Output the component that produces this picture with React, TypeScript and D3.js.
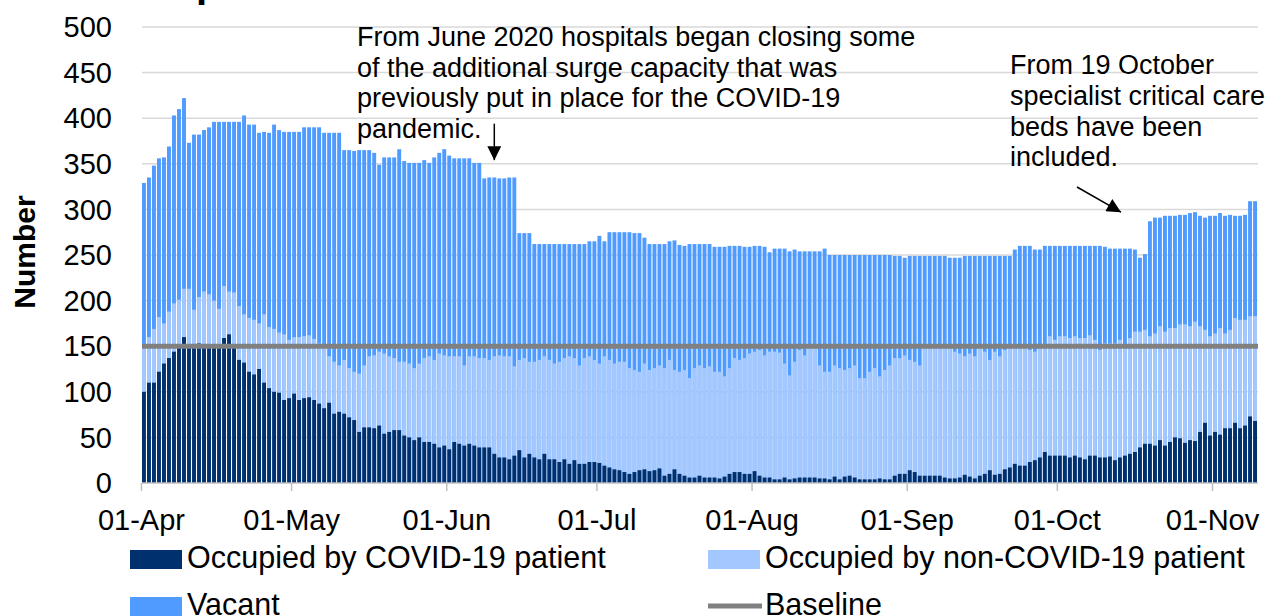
import React from 'react';
import * as d3 from 'd3';

// daily critical care bed counts, 01-Apr-2020 onwards
const startDate = new Date(2020, 3, 1);

const totalBeds = [
  329, 335, 348, 356, 357, 369, 403, 410, 422, 373, 382, 382, 387, 390, 396, 396, 396, 396, 396, 396, 403, 393, 393, 384, 385, 384, 393, 387, 385, 385, 385, 385,
  390, 390, 390, 390, 384, 384, 384, 384, 365, 365, 364, 365, 365, 365, 362, 349, 357, 357, 357, 366, 353, 351, 351, 351, 354, 351, 357, 362, 366, 359, 356, 356,
  356, 356, 351, 351,
  334, 335, 335, 334, 334, 335, 335,
  274, 274, 274,
  262, 262, 262, 262, 262, 262, 262, 262, 262, 262, 262,
  265, 265, 271, 265, 275,
  275, 275, 275, 275, 274, 274, 269, 262, 262, 262, 262, 265, 266, 261, 260, 262, 262, 262, 262, 262, 259, 259, 259, 260, 260, 260, 259, 259, 260, 260, 259, 253, 257, 257,
  257, 254, 256, 254, 254, 254, 254, 254, 257, 250, 250, 250, 250, 250, 250, 250, 250, 250, 250, 250, 250, 250, 249, 249, 247, 249, 249, 249, 249, 249,
  249, 249, 249, 247, 247, 247, 249, 249, 249, 249, 249, 249, 249, 249, 249, 249, 256, 260, 260, 260, 256, 256, 260, 260, 260, 260, 260, 260, 260, 260, 260, 260,
  260, 260, 259, 257, 257, 257, 257, 257, 256, 247, 251, 287, 291, 291, 293, 293, 293, 294, 294, 296, 297, 293, 291, 293, 293, 296, 293, 294, 293, 293, 294, 309, 309,
];

// covid + non-covid patients
const occupiedBeds = [
  148, 160, 169, 182, 175, 188, 197, 201, 213, 213, 190, 204, 210, 207, 200, 191, 216, 210, 209, 194, 185, 181, 179, 175, 185, 171, 169, 165, 163, 157,
  160, 160, 161, 162, 158, 153, 152, 139, 133, 129, 135, 126, 122, 120, 129, 139, 140, 144, 142, 139, 137, 133, 133, 131, 126, 131, 137, 139, 135, 142, 140, 139,
  139, 139, 129, 139, 139, 137, 137, 135, 139, 140, 139, 139, 128, 135, 137, 133, 133, 135, 139, 135, 131, 133, 137, 139, 137, 129, 137, 139, 135, 131, 139, 135,
  131, 133, 133, 126, 124, 122, 131, 124, 126, 129, 126, 135, 124, 122, 124, 115, 126, 129, 126, 128, 122, 122, 117, 126, 137, 135, 137, 142, 144, 146, 140, 144,
  144, 143, 131, 118, 133, 146, 140, 150, 150, 129, 122, 122, 129, 126, 124, 126, 129, 115, 115, 122, 126, 117, 124, 129, 137, 137, 140, 135, 133, 129, 150, 148,
  150, 148, 148, 150, 144, 142, 139, 142, 139, 148, 144, 135, 144, 139, 146, 148, 148, 148, 148, 146, 144, 150, 151, 161, 157, 161, 161, 159, 161, 159, 159, 162,
  157, 146, 153, 153, 153, 157, 150, 159, 166, 166, 168, 161, 164, 172, 166, 170, 170, 174, 174, 172, 177, 172, 168, 161, 164, 170, 164, 168, 181, 179, 179, 183, 183,
];

const covidBeds = [
  100, 110, 110, 122, 131, 137, 144, 151, 160, 152, 152, 153, 152, 151, 151, 150, 159, 163, 150, 135, 132, 122, 119, 125, 110, 104, 100, 99, 91, 93,
  98, 91, 93, 94, 91, 87, 82, 88, 76, 78, 76, 72, 69, 56, 61, 61, 60, 63, 54, 56, 58, 58, 52, 50, 47, 50, 45, 45, 43, 39, 41, 37,
  45, 43, 41, 43, 41, 39, 39, 39, 32, 28, 28, 26, 30, 36, 28, 32, 28, 26, 32, 26, 26, 23, 26, 21, 25, 21, 21, 23, 23, 22, 19, 17,
  15, 14, 12, 10, 12, 14, 15, 13, 14, 16, 8, 10, 15, 10, 8, 6, 6, 8, 6, 6, 6, 5, 7, 10, 12, 12, 10, 10, 13, 8, 6, 6,
  4, 4, 6, 4, 5, 6, 6, 6, 6, 5, 5, 4, 7, 4, 7, 8, 6, 4, 4, 4, 4, 5, 4, 4, 8, 10, 10, 14, 12, 8, 8, 8,
  8, 8, 6, 5, 5, 6, 9, 7, 5, 8, 10, 14, 9, 10, 15, 17, 21, 19, 19, 23, 25, 28, 34, 30, 30, 30, 30, 28, 30, 28, 26, 30,
  30, 28, 28, 29, 25, 28, 30, 32, 34, 39, 43, 43, 41, 47, 41, 45, 50, 49, 44, 47, 46, 56, 66, 52, 56, 53, 60, 60, 66, 60, 63, 73, 68,
];

const baselineBeds = 150;
const yTicks = [0, 50, 100, 150, 200, 250, 300, 350, 400, 450, 500];

const note1 = [
  'From June 2020 hospitals began closing some',
  'of the additional surge capacity that was',
  'previously put in place for the COVID-19',
  'pandemic.',
];
const note2 = ['From 19 October', 'specialist critical care', 'beds have been', 'included.'];

const COL_COVID = '#00306e';
const COL_NONCOVID = '#a3c7ff';
const COL_VACANT = '#4f9bff';
const COL_BASE = '#808080';

export default function App() {
  const n = totalBeds.length;
  const days = d3.range(n);
  const x = d3.scaleBand<number>().domain(days).range([142, 1257]).paddingInner(0.22);
  const y = d3.scaleLinear().domain([0, 500]).range([483, 27]);
  const bw = x.bandwidth();
  const gap = x.step() - bw;

  const endDate = d3.timeDay.offset(startDate, n);
  const months = d3.timeMonth.range(startDate, endDate);
  const fmt = d3.timeFormat('%d-%b');
  const tickX = (m: Date) => (x(d3.timeDay.count(startDate, m)) as number) - gap / 2;

  const font = "'Liberation Sans', Arial, sans-serif";
  const x0 = 142;
  const x1 = 1258;

  // annotation anchors via scales
  const a1x = (x(70) as number) + bw / 2;
  const a1tip = y(354);
  const a2tipX = 1121;
  const a2tipY = y(297);

  return (
    <svg
      width={1266}
      height={616}
      style={{ position: 'absolute', left: 0, top: 0, background: '#fff' }}
      fontFamily={font}
    >
      <defs>
        <marker id="ah" viewBox="0 0 10 10" refX="10" refY="5" markerWidth="16" markerHeight="14"
          markerUnits="userSpaceOnUse" orient="auto">
          <path d="M0,0 L10,5 L0,10 z" fill="#000" />
        </marker>
      </defs>

      {/* title remnant at top edge */}
      <text x={196} y={-3} fontSize={40} fontWeight="bold" fill="#000">p</text>

      {/* gridlines */}
      {yTicks.filter(v => v > 0).map(v => (
        <line key={v} x1={x0} x2={x1} y1={y(v)} y2={y(v)} stroke="#d9d9d9" strokeWidth={1.5} />
      ))}

      {/* y labels */}
      {yTicks.map(v => (
        <text key={v} x={112} y={y(v)} dy="0.35em" textAnchor="end" fontSize={29} fill="#000">{v}</text>
      ))}
      <text transform="translate(35,252) rotate(-90)" textAnchor="middle" fontSize={30}
        fontWeight="bold" fill="#000">Number</text>

      {/* bars: total (vacant on top), occupied, covid */}
      {days.map(i => (
        <rect key={'t' + i} x={x(i)} width={bw} y={y(totalBeds[i])} height={y(0) - y(totalBeds[i])} fill={COL_VACANT} />
      ))}
      {days.map(i => (
        <rect key={'o' + i} x={x(i)} width={bw} y={y(occupiedBeds[i])} height={y(0) - y(occupiedBeds[i])} fill={COL_NONCOVID} />
      ))}
      {days.map(i => (
        <rect key={'c' + i} x={x(i)} width={bw} y={y(covidBeds[i])} height={y(0) - y(covidBeds[i])} fill={COL_COVID} />
      ))}

      {/* baseline */}
      <line x1={x0} x2={x1} y1={y(baselineBeds)} y2={y(baselineBeds)} stroke={COL_BASE} strokeWidth={5} />

      {/* x axis */}
      <line x1={x0} x2={x1} y1={y(0)} y2={y(0)} stroke="#bfbfbf" strokeWidth={1.5} />
      {months.map(m => (
        <g key={+m}>
          <line x1={tickX(m)} x2={tickX(m)} y1={y(0)} y2={y(0) + 8} stroke="#bfbfbf" strokeWidth={1.5} />
          <text x={tickX(m)} y={530} textAnchor="middle" fontSize={29} fill="#000">{fmt(m)}</text>
        </g>
      ))}

      {/* annotations */}
      {note1.map((t, i) => (
        <text key={t} x={357} y={46 + i * 30.7} fontSize={27} fill="#000">{t}</text>
      ))}
      <line x1={a1x} x2={a1x} y1={y(394)} y2={a1tip} stroke="#000" strokeWidth={1.5} markerEnd="url(#ah)" />

      {note2.map((t, i) => (
        <text key={t} x={1010} y={74 + i * 30.8} fontSize={27} fill="#000">{t}</text>
      ))}
      <line x1={1077} y1={187} x2={a2tipX} y2={a2tipY} stroke="#000" strokeWidth={1.5} markerEnd="url(#ah)" />

      {/* legend */}
      <rect x={130} y={550} width={52} height={19} fill={COL_COVID} />
      <text x={187} y={568} fontSize={30.5} fill="#000">Occupied by COVID-19 patient</text>
      <rect x={708} y={550} width={52} height={19} fill={COL_NONCOVID} />
      <text x={765} y={568} fontSize={30.5} fill="#000">Occupied by non-COVID-19 patient</text>
      <rect x={130} y={597} width={52} height={19} fill={COL_VACANT} />
      <text x={187} y={615} fontSize={30.5} fill="#000">Vacant</text>
      <line x1={708} x2={762} y1={606} y2={606} stroke={COL_BASE} strokeWidth={5} />
      <text x={765} y={615} fontSize={30.5} fill="#000">Baseline</text>
    </svg>
  );
}
